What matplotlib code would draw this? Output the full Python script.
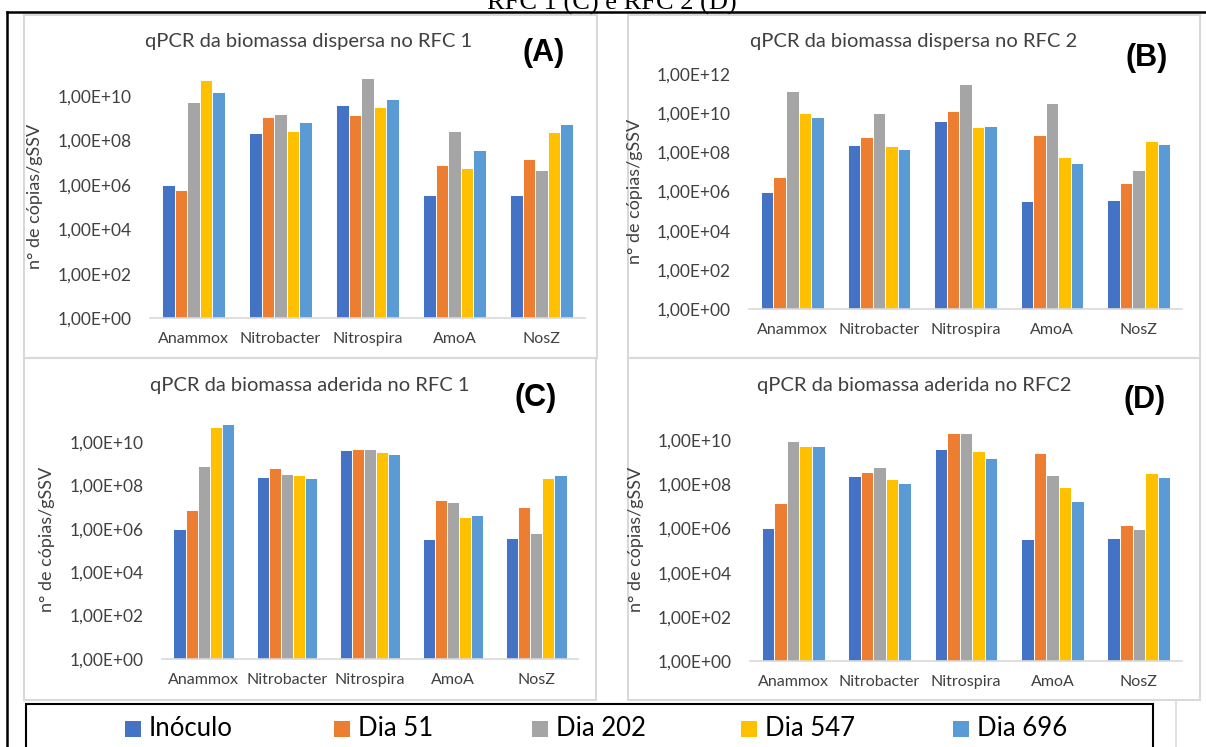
import matplotlib.pyplot as plt
from matplotlib.patches import Rectangle
from matplotlib.lines import Line2D

# ================================================================
# Daten
# ================================================================
CATEGORIES = ["Anammox", "Nitrobacter", "Nitrospira", "AmoA", "NosZ"]
SERIES = ["Inóculo", "Dia 51", "Dia 202", "Dia 547", "Dia 696"]
COLORS = ["#4472C4", "#ED7D31", "#A5A5A5", "#FFC000", "#5B9BD5"]

# eine Zeile pro Serie, eine Spalte pro Kategorie
VALS_A = [
    [1.0e6, 2.3e8, 4.1e9, 3.4e5, 3.6e5],
    [6.0e5, 1.2e9, 1.4e9, 8.1e6, 1.4e7],
    [5.2e9, 1.5e9, 6.7e10, 2.8e8, 4.7e6],
    [5.3e10, 2.8e8, 3.3e9, 5.8e6, 2.4e8],
    [1.5e10, 6.6e8, 7.6e9, 3.9e7, 5.7e8],
]
VALS_B = [
    [1.0e6, 2.4e8, 4.2e9, 3.4e5, 3.8e5],
    [5.4e6, 6.0e8, 1.3e10, 7.8e8, 2.6e6],
    [1.3e11, 1.0e10, 3.0e11, 3.2e10, 1.2e7],
    [1.0e10, 2.2e8, 1.9e9, 5.9e7, 4.0e8],
    [6.5e9, 1.5e8, 2.3e9, 3.0e7, 2.6e8],
]
VALS_C = [
    [1.0e6, 2.4e8, 4.2e9, 3.4e5, 3.7e5],
    [7.2e6, 5.9e8, 4.8e9, 2.1e7, 9.6e6],
    [7.6e8, 3.3e8, 4.8e9, 1.6e7, 6.3e5],
    [4.9e10, 3.0e8, 3.2e9, 3.6e6, 2.1e8],
    [6.9e10, 2.1e8, 2.7e9, 4.3e6, 3.0e8],
]
VALS_D = [
    [1.0e6, 2.3e8, 4.1e9, 3.3e5, 3.6e5],
    [1.4e7, 3.7e8, 2.2e10, 2.7e9, 1.4e6],
    [9.0e9, 6.0e8, 2.2e10, 2.5e8, 9.3e5],
    [5.5e9, 1.7e8, 3.2e9, 7.4e7, 3.2e8],
    [5.5e9, 1.2e8, 1.5e9, 1.7e7, 2.2e8],
]

TITLES = ["qPCR da biomassa dispersa no RFC 1", "qPCR da biomassa dispersa no RFC 2",
          "qPCR da biomassa aderida no RFC 1", "qPCR da biomassa aderida no RFC2"]
LETTERS = ["(A)", "(B)", "(C)", "(D)"]
YLABEL = "n° de cópias/gSSV"

# ================================================================
# Layout (Pixel)
# ================================================================
W, H = 1206, 747
FONT = "Lato"
GREY = "#404040"

fig = plt.figure(figsize=(W / 100, H / 100), dpi=100)
fig.patch.set_facecolor("white")


def fx(x):
    return x / W


def fy(y):
    return 1 - y / H


def frect(x0, y0, x1, y1, **kw):
    fig.patches.append(Rectangle((fx(x0), fy(y1)), fx(x1) - fx(x0), fy(y0) - fy(y1),
                                 transform=fig.transFigure, **kw))


def fline(xs, ys, **kw):
    fig.lines.append(Line2D([fx(x) for x in xs], [fy(y) for y in ys],
                            transform=fig.transFigure, **kw))


# Panel-Rahmen (hinter den Achsen)
boxes = [(24, 15, 597, 358), (628, 15, 1200, 358), (24, 358, 596, 700), (628, 358, 1200, 700)]
for b in boxes:
    frect(*b, facecolor="white", edgecolor="#D9D9D9", linewidth=1.5, zorder=-5)

# panel: values, axes box (left, right, y of 1e0, y of top), ymax exp, title pos, letter pos
panels = [
    (VALS_A, (150, 585, 318, 74), 11, (309, 42), (544, 53)),
    (VALS_B, (749, 1182, 309, 74), 12, (914, 42), (1147, 58)),
    (VALS_C, (162, 578, 659, 420), 11, (310, 386), (536, 398)),
    (VALS_D, (750, 1182, 661, 418), 11, (914, 385), (1145, 400)),
]

x = list(range(len(CATEGORIES)))
bw = 0.145

for i, (vals, (l, r, yb, yt), top_exp, tpos, lpos) in enumerate(panels):
    ax = fig.add_axes([fx(l), fy(yb), fx(r) - fx(l), fy(yt) - fy(yb)])
    ax.set_facecolor("none")
    for s, (name, col) in enumerate(zip(SERIES, COLORS)):
        xs = [xi + (s - 2) * bw for xi in x]
        ax.bar(xs, vals[s], width=bw, color=col, edgecolor="white", linewidth=0.7, label=name)
    ax.set_yscale("log")
    ax.set_ylim(1, 10 ** top_exp)
    ax.set_xlim(-0.5, len(CATEGORIES) - 0.5)
    top_tick = 12 if top_exp >= 12 else 10
    ticks = [10 ** e for e in range(0, top_tick + 1, 2)]
    ax.set_yticks(ticks)
    ax.set_yticklabels(["1,00E+%02d" % e for e in range(0, top_tick + 1, 2)])
    ax.minorticks_off()
    ax.set_xticks(x)
    ax.set_xticklabels(CATEGORIES)
    for sp in ["top", "right", "left"]:
        ax.spines[sp].set_visible(False)
    ax.spines["bottom"].set_color("#D9D9D9")
    ax.spines["bottom"].set_linewidth(1.2)
    ax.tick_params(axis="y", length=0, pad=13, labelsize=12.5, labelcolor=GREY)
    ax.tick_params(axis="x", length=0, pad=10, labelsize=11.5, labelcolor=GREY)
    for t in ax.get_xticklabels() + ax.get_yticklabels():
        t.set_fontfamily(FONT)
    ax.set_ylabel(YLABEL, fontsize=13, color=GREY, fontfamily=FONT)
    ax.yaxis.set_label_coords(-0.245 if i != 2 else -0.257, 0.5)

    fig.text(fx(tpos[0]), fy(tpos[1]), TITLES[i], ha="center", va="center",
             fontsize=14.5, color=GREY, fontfamily=FONT)
    fig.text(fx(lpos[0]), fy(lpos[1]), LETTERS[i], ha="center", va="center",
             fontsize=22, fontweight="bold", color="black", fontfamily="Liberation Sans")

# Rahmenlinien des Dokuments
fline([7, W], [12, 12], color="black", linewidth=1.8)
fline([7, 7], [12, H], color="black", linewidth=1.8)
fline([1176, 1176], [700, H], color="#D9D9D9", linewidth=1.2)

# abgeschnittene Bildunterschrift oben (im Original ebenfalls angeschnitten)
fig.text(fx(612), fy(10), "RFC 1 (C) e RFC 2 (D)", ha="center", va="baseline",
         fontsize=19, fontfamily="Liberation Serif", color="black")

# Legende
frect(26, 704, 1153, H + 5, facecolor="white", edgecolor="black", linewidth=1.5)
leg_x = [133, 342, 540, 749, 961]
for name, col, lx in zip(SERIES, COLORS, leg_x):
    frect(lx - 8, 721, lx + 8, 737, facecolor=col, edgecolor="none")
    fig.text(fx(lx + 16), fy(728), name, ha="left", va="center",
             fontsize=18.5, color="black", fontfamily=FONT)

fig.savefig("out.png", dpi=100)
